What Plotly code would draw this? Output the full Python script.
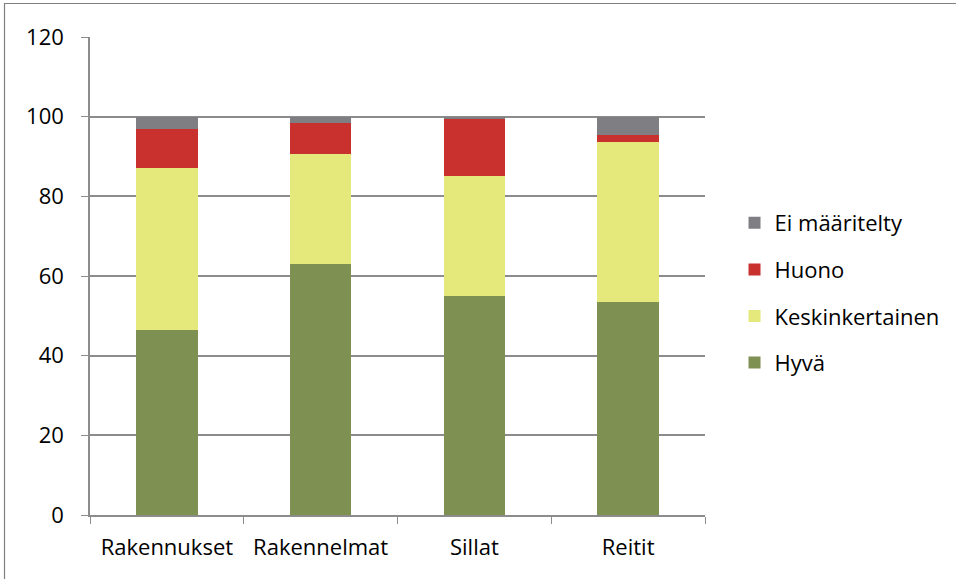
import plotly.graph_objects as go

CATEGORIES = ["Rakennukset", "Rakennelmat", "Sillat", "Reitit"]
HYVA = [46.4, 63.1, 54.9, 53.4]
KESKINKERTAINEN = [40.8, 27.5, 30.1, 40.3]
HUONO = [9.8, 7.8, 14.3, 1.6]
EI_MAARITELTY = [3.0, 1.6, 0.7, 4.7]

SERIES = [
    ("Hyvä", HYVA, "#7f9152"),
    ("Keskinkertainen", KESKINKERTAINEN, "#e5e87b"),
    ("Huono", HUONO, "#c8312e"),
    ("Ei määritelty", EI_MAARITELTY, "#7f7f83"),
]

FONT = "'Open Sans', sans-serif"
GRID = "#8c8c8c"

fig = go.Figure()
for i, (name, values, color) in enumerate(SERIES):
    fig.add_trace(
        go.Bar(
            x=CATEGORIES,
            y=values,
            name=name,
            legendgroup=name,
            legendrank=len(SERIES) - i,
            marker=dict(color=color, line=dict(width=0)),
        )
    )

fig.update_layout(
    barmode="stack",
    bargap=0.6,
    width=956,
    height=579,
    margin=dict(l=90, r=251, t=37, b=64),
    paper_bgcolor="white",
    plot_bgcolor="white",
    font=dict(family=FONT, size=22, color="black"),
    showlegend=True,
    legend=dict(
        traceorder="grouped",
        tracegroupgap=15,
        x=1.048,
        xanchor="left",
        y=0.5 - 17 / 478,
        yanchor="middle",
        font=dict(family=FONT, size=22),
        itemwidth=30,
        entrywidth=150,
        entrywidthmode="pixels",
        borderwidth=0,
    ),
)

fig.update_yaxes(
    range=[0, 120],
    dtick=20,
    showgrid=True,
    gridcolor=GRID,
    gridwidth=1.5,
    showline=True,
    linecolor=GRID,
    linewidth=1.5,
    ticks="outside",
    ticklen=7,
    tickcolor=GRID,
    zeroline=False,
    ticklabelstandoff=13,
)
fig.update_xaxes(
    showline=True,
    linecolor=GRID,
    linewidth=1.5,
    ticks="outside",
    tickson="boundaries",
    ticklen=7,
    tickcolor=GRID,
    showgrid=False,
    ticklabelstandoff=12,
)

# outer chart border
fig.add_shape(
    type="rect",
    xref="paper",
    yref="paper",
    x0=(4.5 - 90) / 615,
    x1=(975 - 90) / 615,
    y0=(515 - 600) / 478,
    y1=(515 - 3.5) / 478,
    line=dict(color="#7f7f7f", width=1.2),
    layer="below",
)

# drop the default page margin so the figure sits at the window origin
fig.write_html(
    "out.html",
    config={"displayModeBar": False},
    post_script="document.body.style.margin = '0';",
)
